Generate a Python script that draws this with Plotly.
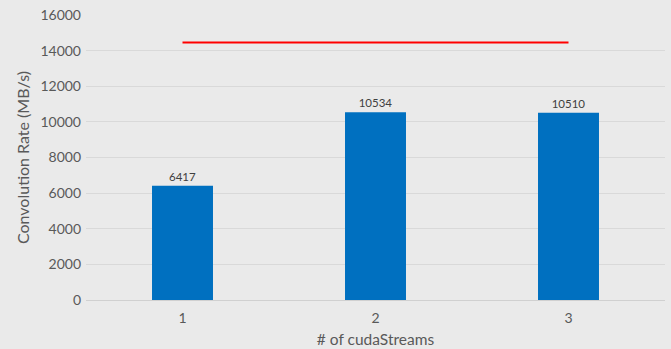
import plotly.graph_objects as go

categories = ["1", "2", "3"]
rates = [6417, 10534, 10510]
target = [14450, 14450, 14450]
y_ticks = [0, 2000, 4000, 6000, 8000, 10000, 12000, 14000, 16000]

font = "Lato, 'Open Sans', sans-serif"

fig = go.Figure()
fig.add_trace(go.Bar(
    x=categories, y=rates, marker=dict(color="#0070c0", line=dict(width=0)),
    text=[str(v) for v in rates], textposition="outside",
    textfont=dict(size=11.5, color="#404040", family=font),
    cliponaxis=False, width=0.316, showlegend=False,
))
fig.add_trace(go.Scatter(
    x=categories, y=target, mode="lines",
    line=dict(color="#ff0000", width=2), showlegend=False,
))
fig.update_layout(
    width=671, height=349,
    margin=dict(l=86, r=6, t=15, b=49),
    paper_bgcolor="#eaeaea", plot_bgcolor="rgba(0,0,0,0)",
    font=dict(family=font, color="#595959", size=14),
    xaxis=dict(type="category", showgrid=False, showline=False, ticks="", automargin=False,
               tickfont=dict(size=14, color="#595959"), ticklabelstandoff=8,
               title=dict(text="# of cudaStreams", font=dict(size=15.5, color="#595959"), standoff=9)),
    yaxis=dict(range=[0, 16000], tickvals=y_ticks, ticktext=[str(t) for t in y_ticks],
               gridcolor="#d9d9d9", gridwidth=1, zeroline=True, zerolinecolor="#d0d0d0",
               zerolinewidth=1, showline=False, ticks="", ticklen=0, automargin=False,
               tickfont=dict(size=14, color="#595959"), ticklabelstandoff=4,
               title=dict(text="Convolution Rate (MB/s)", font=dict(size=16, color="#595959"), standoff=6)),
)
fig.write_html("out.html")
